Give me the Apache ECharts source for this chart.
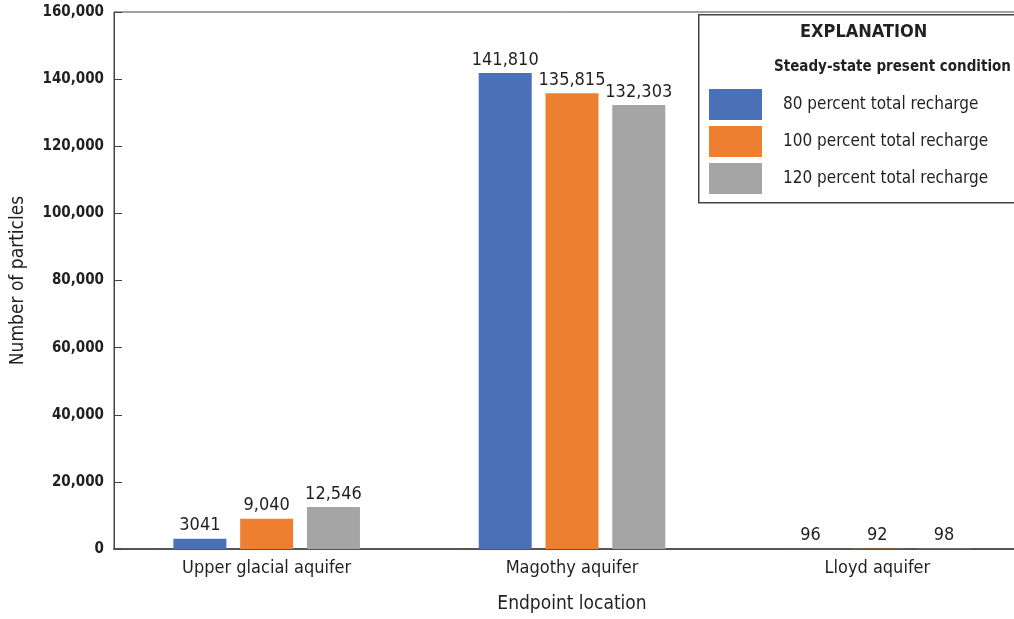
<!DOCTYPE html>
<html><head><meta charset="utf-8">
<script src="https://cdn.jsdelivr.net/npm/echarts@6/dist/echarts.min.js"></script>
<style>html,body{margin:0;padding:0;background:#fff}#c{width:1014px;height:619px}</style>
</head><body><div id="c"></div>
<script>
const categories = ['Upper glacial aquifer', 'Magothy aquifer', 'Lloyd aquifer'];
const seriesNames = ['80 percent total recharge', '100 percent total recharge', '120 percent total recharge'];
const values80 = [3041, 141810, 96];
const values100 = [9040, 135815, 92];
const values120 = [12546, 132303, 98];
const labels80 = ['3041', '141,810', '96'];
const labels100 = ['9,040', '135,815', '92'];
const labels120 = ['12,546', '132,303', '98'];
const yTicks = [0, 20000, 40000, 60000, 80000, 100000, 120000, 140000, 160000];

const FONT = '"DejaVu Sans Condensed", "Liberation Sans Narrow", Roboto, sans-serif';
const colors = ['#4a70b8', '#ee7f31', '#a5a5a5'];
const allVals = [values80, values100, values120];
const allLabels = [labels80, labels100, labels120];

const chart = echarts.init(document.getElementById('c'));
chart.setOption({
  animation: false,
  textStyle: { fontFamily: FONT },
  grid: { left: 114, top: 12, width: 916, bottom: 70, outerBoundsMode: 'none', containLabel: false,
          show: true, borderColor: '#444', borderWidth: 1, backgroundColor: 'transparent' },
  legend: {
    orient: 'vertical', left: 709, top: 89, padding: 0,
    itemWidth: 53, itemHeight: 31, itemGap: 6,
    icon: 'rect',
    data: seriesNames,
    textStyle: { fontFamily: FONT, fontSize: 17, color: '#231f20', padding: [0, 0, 0, 16] },
    selectedMode: false
  },
  xAxis: {
    type: 'category', data: categories,
    axisTick: { show: false },
    axisLine: { lineStyle: { color: '#555', width: 2 } },
    axisLabel: { fontFamily: FONT, fontSize: 18, color: '#231f20', margin: 10 },
    name: 'Endpoint location', nameLocation: 'middle', nameGap: 46,
    nameTextStyle: { fontFamily: FONT, fontSize: 19, color: '#231f20' }
  },
  yAxis: {
    type: 'value', min: yTicks[0], max: yTicks[yTicks.length - 1], interval: 20000,
    splitLine: { show: false },
    axisLine: { show: true, lineStyle: { color: '#444', width: 1 } },
    axisTick: { show: true, inside: true, length: 8, lineStyle: { color: '#444' } },
    axisLabel: {
      fontFamily: FONT, fontSize: 15, fontWeight: 'bold', color: '#231f20', margin: 10,
      formatter: v => v === 0 ? '0' : v.toLocaleString('en-US')
    },
    name: 'Number of particles', nameLocation: 'middle', nameGap: 86,
    nameTextStyle: { fontFamily: FONT, fontSize: 19, color: '#231f20' }
  },
  series: seriesNames.map((n, i) => ({
    name: n, type: 'bar', data: allVals[i],
    barWidth: 53, barGap: '26%',
    itemStyle: { color: colors[i] },
    label: {
      show: true, position: 'top', distance: 4,
      fontFamily: FONT, fontSize: 18, color: '#231f20',
      formatter: p => allLabels[i][p.dataIndex]
    }
  })),
  graphic: [
    { type: 'rect', left: 698, top: 14, shape: { width: 330, height: 188 },
      style: { fill: '#fff', stroke: '#444', lineWidth: 1.5 }, z: -1 },
    { type: 'text', left: 800, top: 23,
      style: { text: 'EXPLANATION', font: 'bold 18px ' + FONT, fill: '#231f20' } },
    { type: 'text', left: 774, top: 60,
      style: { text: 'Steady-state present condition', font: 'bold 15px ' + FONT, fill: '#231f20' } }
  ]
});
</script></body></html>
